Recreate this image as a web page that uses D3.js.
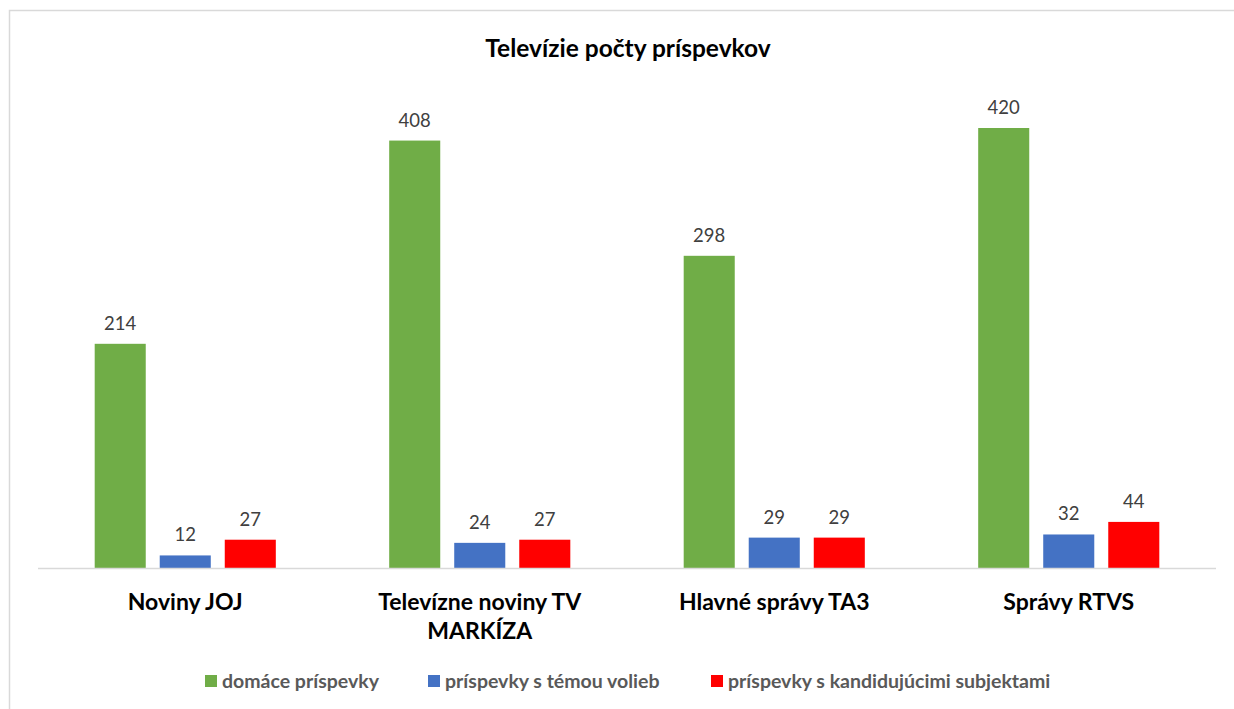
<!DOCTYPE html>
<html>
<head>
<meta charset="utf-8">
<script src="https://cdn.jsdelivr.net/npm/d3@7"></script>
<style>
  body { margin: 0; background: #fff; }
  text { font-family: Lato, "Open Sans", sans-serif; }
</style>
</head>
<body>
<div id="chart"></div>
<script>
// Chart data
const categories = ["Noviny JOJ", "Televízne noviny TV MARKÍZA", "Hlavné správy TA3", "Správy RTVS"];
const categoryLines = [["Noviny JOJ"], ["Televízne noviny TV", "MARKÍZA"], ["Hlavné správy TA3"], ["Správy RTVS"]];
const seriesNames = ["domáce príspevky", "príspevky s témou volieb", "príspevky s kandidujúcimi subjektami"];
const domace = [214, 408, 298, 420];
const temou = [12, 24, 29, 32];
const kandidujuci = [27, 27, 29, 44];
const colors = ["#70AD47", "#4472C4", "#FF0000"];

const seriesValues = [domace, temou, kandidujuci];

const width = 1234, height = 709;
const margin = { top: 97, left: 38, right: 18, bottom: 141 };

const svg = d3.select("#chart")
  .append("svg")
  .attr("width", width)
  .attr("height", height);

// Outer chart border (partly cut off like the reference)
svg.append("rect")
  .attr("x", 9.5).attr("y", 10.5)
  .attr("width", 1240).attr("height", 720)
  .attr("fill", "none")
  .attr("stroke", "#D9D9D9")
  .attr("stroke-width", 1.5);

const x0 = d3.scaleBand()
  .domain(categories)
  .range([margin.left, width - margin.right])
  .paddingInner(0.385)
  .paddingOuter(0.1925);

const x1 = d3.scaleBand()
  .domain(seriesNames)
  .range([0, x0.bandwidth()])
  .paddingInner(0.215)
  .paddingOuter(0);

const y = d3.scaleLinear()
  .domain([0, 450])
  .range([568, 568 - 450 * 440 / 420]);

// Title
svg.append("text")
  .attr("x", 628).attr("y", 57)
  .attr("text-anchor", "middle")
  .attr("font-size", 24.5)
  .attr("font-weight", "bold")
  .attr("fill", "#000")
  .text("Televízie počty príspevkov");

// Bars
const groups = svg.selectAll("g.group")
  .data(categories)
  .enter()
  .append("g")
  .attr("class", "group")
  .attr("transform", d => `translate(${x0(d)},0)`);

groups.each(function(cat, i) {
  const g = d3.select(this);
  const rows = seriesNames.map((s, j) => ({ s, v: seriesValues[j][i], c: colors[j] }));

  g.selectAll("rect")
    .data(rows)
    .enter()
    .append("rect")
    .attr("x", d => x1(d.s))
    .attr("y", d => y(d.v))
    .attr("width", x1.bandwidth())
    .attr("height", d => y(0) - y(d.v))
    .attr("fill", d => d.c);

  g.selectAll("text.val")
    .data(rows)
    .enter()
    .append("text")
    .attr("class", "val")
    .attr("x", d => x1(d.s) + x1.bandwidth() / 2)
    .attr("y", d => y(d.v) - 14)
    .attr("text-anchor", "middle")
    .attr("font-size", 18.5)
    .attr("fill", "#404040")
    .text(d => d.v);
});

// Axis line
svg.append("line")
  .attr("x1", margin.left).attr("x2", width - margin.right)
  .attr("y1", y(0) + 0.5).attr("y2", y(0) + 0.5)
  .attr("stroke", "#D9D9D9")
  .attr("stroke-width", 1.5);

// Category labels
categories.forEach((c, i) => {
  const t = svg.append("text")
    .attr("x", x0(c) + x0.bandwidth() / 2)
    .attr("y", 610)
    .attr("text-anchor", "middle")
    .attr("font-size", 23)
    .attr("font-weight", "bold")
    .attr("fill", "#000");
  categoryLines[i].forEach((line, k) => {
    t.append("tspan")
      .attr("x", x0(c) + x0.bandwidth() / 2)
      .attr("dy", k === 0 ? 0 : 29)
      .text(line);
  });
});

// Legend
const legendX = [205, 428, 711];
const legend = svg.selectAll("g.legend")
  .data(seriesNames)
  .enter()
  .append("g")
  .attr("class", "legend")
  .attr("transform", (d, i) => `translate(${legendX[i]},675)`);

legend.append("rect")
  .attr("width", 12).attr("height", 12)
  .attr("fill", (d, i) => colors[i]);

legend.append("text")
  .attr("x", 17).attr("y", 12.5)
  .attr("font-size", 19.5)
  .attr("font-weight", "bold")
  .attr("fill", "#595959")
  .text(d => d);
</script>
</body>
</html>
